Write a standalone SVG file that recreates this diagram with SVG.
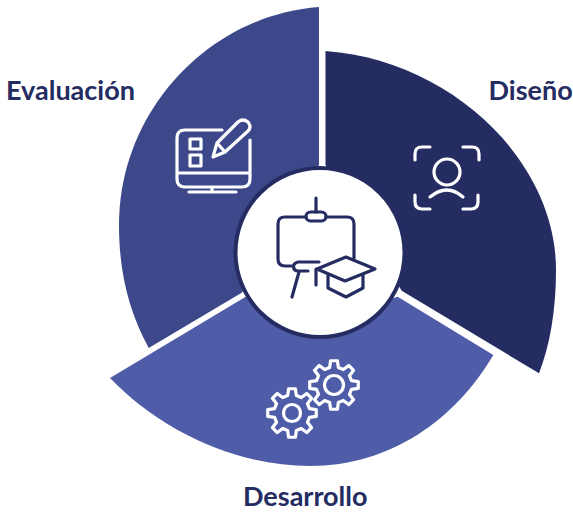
<svg xmlns="http://www.w3.org/2000/svg" width="573" height="512" viewBox="0 0 573 512">
<style>
.l{font:700 27px Lato,sans-serif;fill:#242c62}
.w{fill:none;stroke:#fff;stroke-width:3.2;stroke-linecap:round;stroke-linejoin:round}
.d{fill:none;stroke:#242c62;stroke-width:3.2;stroke-linecap:round;stroke-linejoin:round}
</style>
<defs>
<path id="gear" d="M-4.35-17.47L-3.41-24.26L3.41-24.26L4.35-17.47L9.28-15.43L14.74-19.57L19.57-14.74L15.43-9.28L17.47-4.35L24.26-3.41L24.26 3.41L17.47 4.35L15.43 9.28L19.57 14.74L14.74 19.57L9.28 15.43L4.35 17.47L3.41 24.26L-3.41 24.26L-4.35 17.47L-9.28 15.43L-14.74 19.57L-19.57 14.74L-15.43 9.28L-17.47 4.35L-24.26 3.41L-24.26-3.41L-17.47-4.35L-15.43-9.28L-19.57-14.74L-14.74-19.57L-9.28-15.43Z"/>
</defs>
<rect width="573" height="512" fill="#fff"/>
<g id="connectors"></g>
<g id="disenio">
<path d="M325.500 51C450 60 556 160 556 270C556 310 550 345 539 373.300L401.700 290.700L325.500 165Z" fill="#242c62"/>
<g class="w"><path d="M415 160V154Q415 147 422 147H430M463 147H472Q479 147 479 154V160M415 195V202Q415 209 422 209H430M463 209H471Q478 209 478 202V195"/><circle cx="447" cy="172" r="13"/><path d="M430 197Q447 183 463 197"/></g>
</g>
<g id="evaluacion">
<path d="M319 7V165L241.700 292.700L148.700 348C128 310 119 270 119 225C119 110 210 15 319 7Z" fill="#3c488a"/>
<g class="w"><path d="M222 130H185Q177 130 177 138V179Q177 187 185 187H242Q250 187 250 179V140M177 173H250M189 192H236M212 187V192"/><rect x="190" y="139" width="11" height="10"/><rect x="190" y="155" width="11" height="11"/><path d="M213 157L217 143L238 122Q243 118 248 122Q252 127 248 131L225 152ZM217 143L225 152"/></g>
</g>
<g id="desarrollo">
<path d="M110 378L245.700 296.700L321 320L397.700 296.700L493.300 355C455 420 390 466 310 466C235 466 160 430 110 378Z" fill="#4f5ca8"/>
<g class="w">
<use href="#gear" x="292" y="413"/>
<use href="#gear" x="334" y="385"/>
<circle cx="292" cy="413" r="8.500"/>
<circle cx="334" cy="385" r="9.500"/>
</g>
</g>
<g id="centro">
<circle cx="320" cy="252.500" r="84.500" fill="#fff" stroke="#242c62" stroke-width="4"/>
<g class="d"><path d="M316 198V212"/><rect x="306" y="212" width="20" height="9" rx="4.500"/><path d="M306 217H285Q278 217 278 224V259Q278 266 285 266H293M326 217H347Q354 217 354 224V258M298 262H319M298 262Q293.500 263 293.500 267Q294 271 298 271H308M299 272L292 297M316 269V285"/><path d="M346 257L375 269L345 281L317 269Z"/><path d="M328 275V288L346 297L363 288V275"/></g>
</g>
<text class="l" x="6" y="99.500">Evaluación</text>
<text class="l" x="488.500" y="99.500">Diseño</text>
<text class="l" x="243" y="506">Desarrollo</text>
</svg>
